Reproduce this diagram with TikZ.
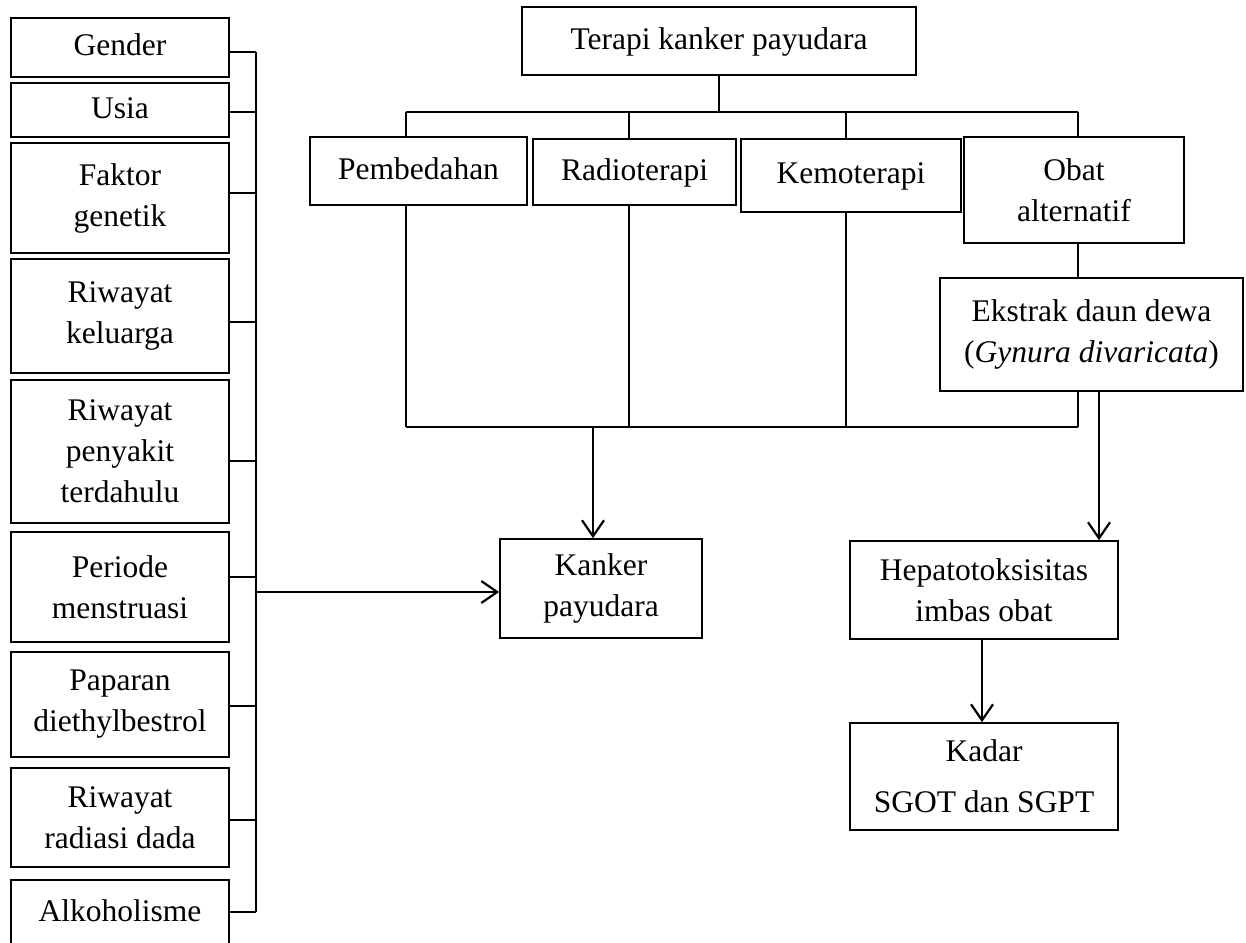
\documentclass[tikz,border=0pt]{standalone}
\usepackage{fontspec}
\setmainfont{Liberation Serif}
\usetikzlibrary{arrows.meta}

\tikzset{
	kotak/.style={draw, line width=1.6pt, inner sep=0pt, align=center,
		font=\fontsize{31.5}{41}\selectfont},
	ukuran/.style 2 args={minimum width=#1pt, minimum height=#2pt},
	garis/.style={line width=1.6pt},
	panah/.style={line width=2.2pt, -{Straight Barb[length=16pt,width=22pt]}}
}

\begin{document}
\begin{tikzpicture}[x=1pt,y=-1pt]
	\useasboundingbox (0,0) rectangle (1246,942);
	\clip (0,0) rectangle (1246,942);

	% faktor risiko
	\node[kotak,ukuran={218}{59}]  (gender)   at (120,47.5)  {\strut Gender};
	\node[kotak,ukuran={218}{54}]  (usia)     at (120,110)   {\strut Usia};
	\node[kotak,ukuran={218}{110}] (faktor)   at (120,198)   {Faktor\\genetik};
	\node[kotak,ukuran={218}{114}] (keluarga) at (120,316)   {Riwayat\\keluarga};
	\node[kotak,ukuran={218}{143}] (penyakit) at (120,451.5) {Riwayat\\penyakit\\terdahulu};
	\node[kotak,ukuran={218}{110}] (periode)  at (120,587)   {Periode\\menstruasi};
	\node[kotak,ukuran={218}{105}] (paparan)  at (120,704.5) {Paparan\\diethylbestrol};
	\node[kotak,ukuran={218}{99}]  (radiasi)  at (120,817.5) {Riwayat\\radiasi dada};
	\node[kotak,ukuran={218}{66}]  (alkohol)  at (120,913)   {\strut Alkoholisme};

	% terapi
	\node[kotak,ukuran={394}{68}]  (terapi)      at (719,41)      {\strut Terapi kanker payudara};
	\node[kotak,ukuran={217}{68}]  (pembedahan)  at (418.5,171)   {\strut Pembedahan};
	\node[kotak,ukuran={203}{66}]  (radioterapi) at (634.5,172)   {\strut Radioterapi};
	\node[kotak,ukuran={220}{73}]  (kemoterapi)  at (851,175.5)   {\raisebox{4pt}{\strut Kemoterapi}};
	\node[kotak,ukuran={220}{106}] (obat)        at (1074,190)    {Obat\\alternatif};
	\node[kotak,ukuran={303}{113}] (ekstrak)     at (1091.5,334.5) {Ekstrak daun dewa\\(\textit{Gynura divaricata})};

	% hasil
	\node[kotak,ukuran={202}{99}]  (kanker) at (601,588.5) {Kanker\\payudara};
	\node[kotak,ukuran={268}{98}]  (hepato) at (984,590)   {Hepatotoksisitas\\imbas obat};
	\node[kotak,ukuran={268}{107}] (kadar)  at (984,776.5) {Kadar\\[10pt]SGOT dan SGPT};

	% titik sambungan
	\coordinate (bA) at (256,52);
	\coordinate (bB) at (256,912);
	\coordinate (bM) at (256,592);
	\coordinate (jA) at (406,112);
	\coordinate (jB) at (1078,112);
	\coordinate (kA) at (406,427);
	\coordinate (kB) at (1078,427);

	% garis faktor risiko
	\draw[garis] (bA) -- (bB);
	\foreach \n/\y in {gender/52,usia/112,faktor/193,keluarga/322,penyakit/461,
			periode/577,paparan/706,radiasi/820,alkohol/912}
		\draw[garis] (\n.east |- 0,\y) -- (256,\y);
	\draw[panah] (bM) -- (bM -| kanker.west);

	% cabang terapi
	\draw[garis] (terapi.south) -- (terapi.south |- jA);
	\draw[garis] (jA) -- (jB);
	\foreach \n/\x in {pembedahan/406,radioterapi/629,kemoterapi/846,obat/1078}
		\draw[garis] (\x,112) -- (\n.north -| \x,0);
	\draw[garis] (obat.south -| 1078,0) -- (ekstrak.north -| 1078,0);

	% gabungan bawah
	\foreach \n/\x in {pembedahan/406,radioterapi/629,kemoterapi/846,ekstrak/1078}
		\draw[garis] (\n.south -| \x,0) -- (\x,427);
	\draw[garis] (kA) -- (kB);
	\draw[panah] (593,427) -- (kanker.north -| 593,0);
	\draw[panah] (ekstrak.south -| 1099,0) -- (hepato.north -| 1099,0);
	\draw[panah] (hepato.south -| 982,0) -- (kadar.north -| 982,0);
\end{tikzpicture}
\end{document}
